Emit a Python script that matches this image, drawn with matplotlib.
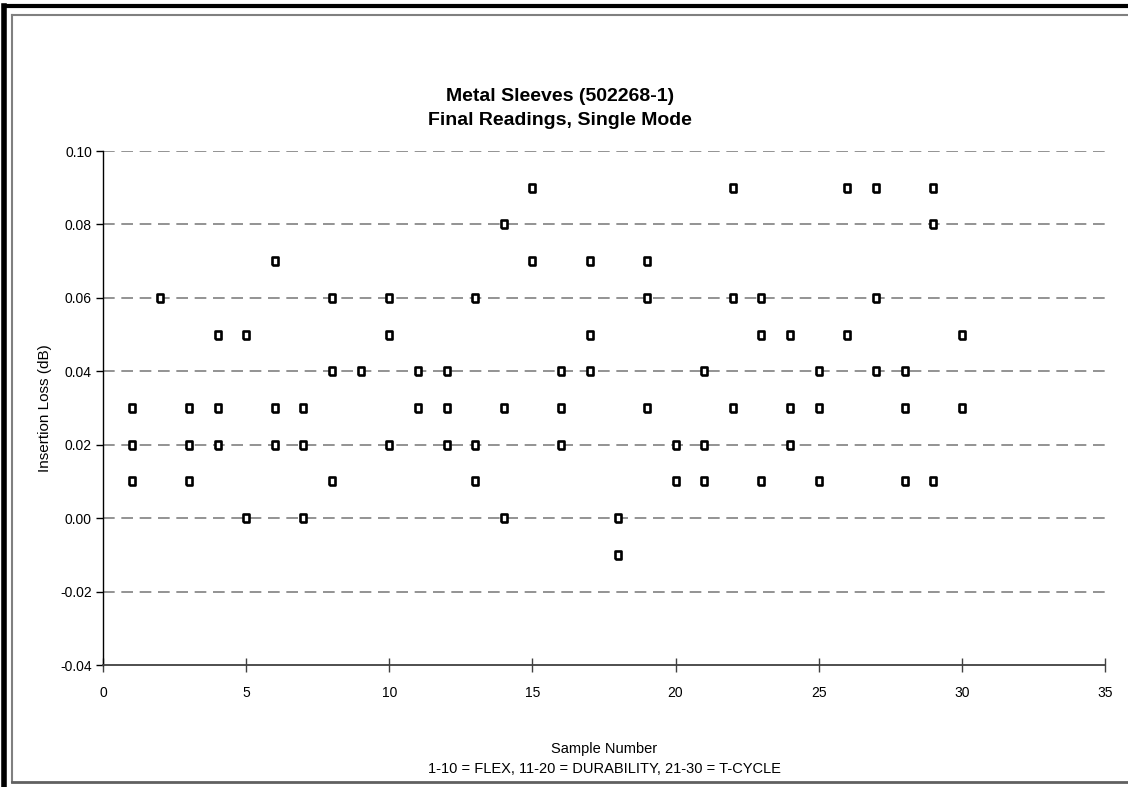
import numpy as np
import matplotlib.pyplot as plt
from matplotlib.lines import Line2D

# sample number and insertion loss readings (dB)
sample = [1, 1, 1, 2, 3, 3, 3, 4, 4, 4, 5, 5, 6, 6, 6, 7, 7, 7, 8, 8, 8, 9,
          10, 10, 10, 11, 11, 12, 12, 12, 13, 13, 13, 14, 14, 14, 15, 15,
          16, 16, 16, 17, 17, 17, 18, 18, 19, 19, 19, 20, 20,
          21, 21, 21, 22, 22, 22, 23, 23, 23, 24, 24, 24, 25, 25, 25,
          26, 26, 27, 27, 27, 28, 28, 28, 29, 29, 29, 30, 30]
loss = [0.03, 0.02, 0.01, 0.06, 0.03, 0.02, 0.01, 0.05, 0.03, 0.02, 0.05, 0.00,
        0.07, 0.03, 0.02, 0.03, 0.02, 0.00, 0.06, 0.04, 0.01, 0.04,
        0.06, 0.05, 0.02, 0.04, 0.03, 0.04, 0.03, 0.02, 0.06, 0.02, 0.01,
        0.08, 0.03, 0.00, 0.09, 0.07, 0.04, 0.03, 0.02, 0.07, 0.05, 0.04,
        0.00, -0.01, 0.07, 0.06, 0.03, 0.02, 0.01,
        0.04, 0.02, 0.01, 0.09, 0.06, 0.03, 0.06, 0.05, 0.01, 0.05, 0.03, 0.02,
        0.04, 0.03, 0.01, 0.09, 0.05, 0.09, 0.06, 0.04, 0.04, 0.03, 0.01,
        0.09, 0.08, 0.01, 0.05, 0.03]

yticks = [-0.04, -0.02, 0.00, 0.02, 0.04, 0.06, 0.08, 0.10]
xticks = [0, 5, 10, 15, 20, 25, 30, 35]

plt.rcParams['font.family'] = ['Liberation Sans', 'DejaVu Sans']

fig = plt.figure(figsize=(11.28, 7.87), dpi=100)
ax = fig.add_axes([0.0913, 0.155, 0.8883, 0.6531])

for yv in yticks[1:]:
    ax.axhline(yv, color='#808080', lw=1.2, dashes=(7, 4), zorder=1)

# slightly tall rectangle markers
rect = [(-0.45, -0.5), (0.45, -0.5), (0.45, 0.5), (-0.45, 0.5), (-0.45, -0.5)]
ax.scatter(sample, loss, marker=rect, s=28, facecolor='white',
           edgecolor='black', linewidths=1.9, zorder=3, clip_on=False)

ax.set_xlim(0, 35)
ax.set_ylim(-0.04, 0.10)
ax.set_xticks(xticks)
ax.set_yticks(yticks)
ax.set_yticklabels(['%.2f' % v for v in yticks])
ax.tick_params(axis='x', direction='inout', length=10, width=1, color='#404040',
               labelsize=10, pad=10)
ax.tick_params(axis='y', direction='out', length=5, width=1, labelsize=10, pad=3)
for side in ['top', 'right']:
    ax.spines[side].set_visible(False)
ax.spines['left'].set_color('black')
ax.spines['left'].set_linewidth(1)
ax.spines['bottom'].set_color('#404040')
ax.spines['bottom'].set_linewidth(1.3)

ax.set_ylabel('Insertion Loss (dB)', fontsize=11, labelpad=6)
ax.set_xlabel('Sample Number\n1-10 = FLEX, 11-20 = DURABILITY, 21-30 = T-CYCLE',
              fontsize=10.5, labelpad=30, linespacing=1.6)

fig.text(0.4965, 0.862, 'Metal Sleeves (502268-1)\nFinal Readings, Single Mode',
         ha='center', va='center', fontsize=14, fontweight='bold', linespacing=1.55)

# frame around the chart
fig.add_artist(Line2D([0.0035, 0.0035], [0, 0.992], color='black', lw=4))
fig.add_artist(Line2D([0.0035, 1.0], [0.992, 0.992], color='black', lw=3))
fig.add_artist(Line2D([0.0108, 0.0108], [0.006, 0.981], color='#808080', lw=1.5))
fig.add_artist(Line2D([0.0108, 1.0], [0.981, 0.981], color='#808080', lw=1.5))
fig.add_artist(Line2D([0.0108, 1.0], [0.006, 0.006], color='#606060', lw=2))

fig.savefig('out.png', dpi=100)
